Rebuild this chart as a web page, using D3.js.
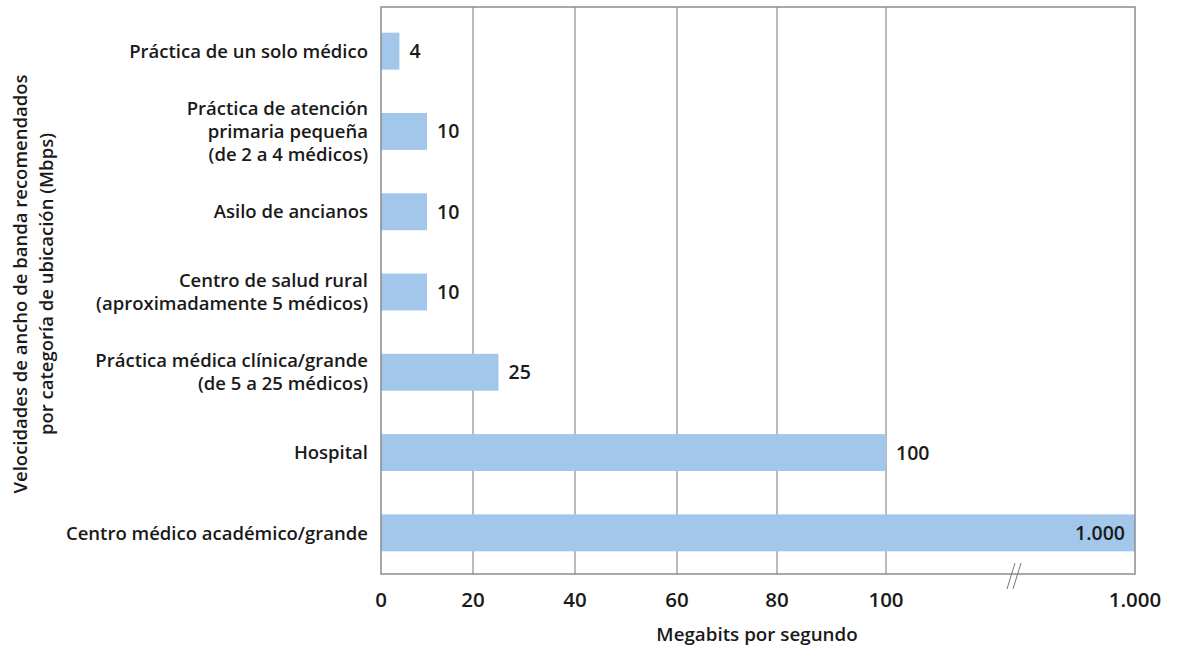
<!DOCTYPE html>
<html>
<head>
<meta charset="utf-8">
<script src="https://cdn.jsdelivr.net/npm/d3@7"></script>
<style>
  body { margin: 0; background: #fff; }
  text { font-family: "Open Sans", Lato, sans-serif; font-weight: 600; fill: #1a1a1a; }
</style>
</head>
<body>
<svg width="1178" height="648"></svg>
<script>
// data
var categories = [
  ["Práctica de un solo médico"],
  ["Práctica de atención", "primaria pequeña", "(de 2 a 4 médicos)"],
  ["Asilo de ancianos"],
  ["Centro de salud rural", "(aproximadamente 5 médicos)"],
  ["Práctica médica clínica/grande", "(de 5 a 25 médicos)"],
  ["Hospital"],
  ["Centro médico académico/grande"]
];
var values = [4, 10, 10, 10, 25, 100, 1000];
var valueLabels = ["4", "10", "10", "10", "25", "100", "1.000"];
var tickValues = [0, 20, 40, 60, 80, 100, 1000];
var tickLabels = ["0", "20", "40", "60", "80", "100", "1.000"];

var svg = d3.select("svg");

var plotLeft = 381, plotRight = 1135, plotTop = 7, plotBottom = 574;

// broken axis: 0-100 then a jump to 1000
var x = d3.scaleLinear()
    .domain(tickValues)
    .range([plotLeft, 473, 575, 677, 777, 886, plotRight]);

var y = d3.scaleBand()
    .domain(d3.range(values.length))
    .range([11, 573])
    .paddingInner(0.54)
    .paddingOuter(0.27);

// gridlines
svg.append("g")
  .selectAll("line")
  .data(tickValues.slice(1, 6))
  .enter().append("line")
    .attr("x1", function(d) { return x(d); })
    .attr("x2", function(d) { return x(d); })
    .attr("y1", plotTop)
    .attr("y2", plotBottom)
    .attr("stroke", "#8c8c8c")
    .attr("stroke-width", 1.2);

// bars
svg.append("g")
  .selectAll("rect")
  .data(values)
  .enter().append("rect")
    .attr("x", x(0))
    .attr("y", function(d, i) { return y(i); })
    .attr("width", function(d) { return x(d) - x(0); })
    .attr("height", y.bandwidth())
    .attr("fill", "#a3c7ea");

// frame
svg.append("rect")
    .attr("x", plotLeft)
    .attr("y", plotTop)
    .attr("width", plotRight - plotLeft)
    .attr("height", plotBottom - plotTop)
    .attr("fill", "none")
    .attr("stroke", "#8c8c8c")
    .attr("stroke-width", 1.5);

// break marks
var bx = 1014, by = 576;
[-3, 3].forEach(function(o) {
  svg.append("line")
      .attr("x1", bx + o - 4).attr("y1", by + 13)
      .attr("x2", bx + o + 4).attr("y2", by - 13)
      .attr("stroke", "#777")
      .attr("stroke-width", 1);
});

// value labels
svg.append("g")
  .selectAll("text")
  .data(values)
  .enter().append("text")
    .attr("x", function(d, i) { return i === values.length - 1 ? x(d) - 10 : x(d) + 10; })
    .attr("y", function(d, i) { return y(i) + y.bandwidth() / 2; })
    .attr("dy", "0.36em")
    .attr("text-anchor", function(d, i) { return i === values.length - 1 ? "end" : "start"; })
    .style("font-size", "19.5px")
    .text(function(d, i) { return valueLabels[i]; });

// category labels
var cat = svg.append("g")
  .selectAll("text")
  .data(categories)
  .enter().append("text")
    .attr("text-anchor", "end")
    .attr("x", 368)
    .attr("y", function(d, i) { return y(i) + y.bandwidth() / 2; })
    .style("font-size", "18.5px");
cat.selectAll("tspan")
  .data(function(d) { return d.map(function(t, j) { return {t: t, j: j, n: d.length}; }); })
  .enter().append("tspan")
    .attr("x", 368)
    .attr("dy", function(d) { return d.j === 0 ? (0.36 - (d.n - 1) * 0.62) + "em" : "1.24em"; })
    .text(function(d) { return d.t; });

// x tick labels
svg.append("g")
  .selectAll("text")
  .data(tickValues)
  .enter().append("text")
    .attr("x", function(d) { return x(d); })
    .attr("y", 607)
    .attr("text-anchor", "middle")
    .style("font-size", "20.5px")
    .text(function(d, i) { return tickLabels[i]; });

// axis titles
svg.append("text")
    .attr("x", 757)
    .attr("y", 641)
    .attr("text-anchor", "middle")
    .style("font-size", "18.8px")
    .text("Megabits por segundo");

var yt = svg.append("text")
    .attr("transform", "translate(27,284) rotate(-90)")
    .attr("text-anchor", "middle")
    .style("font-size", "18.5px");
yt.append("tspan").attr("x", 0).attr("dy", 0).text("Velocidades de ancho de banda recomendados");
yt.append("tspan").attr("x", 0).attr("dy", "1.38em").text("por categoría de ubicación (Mbps)");
</script>
</body>
</html>
